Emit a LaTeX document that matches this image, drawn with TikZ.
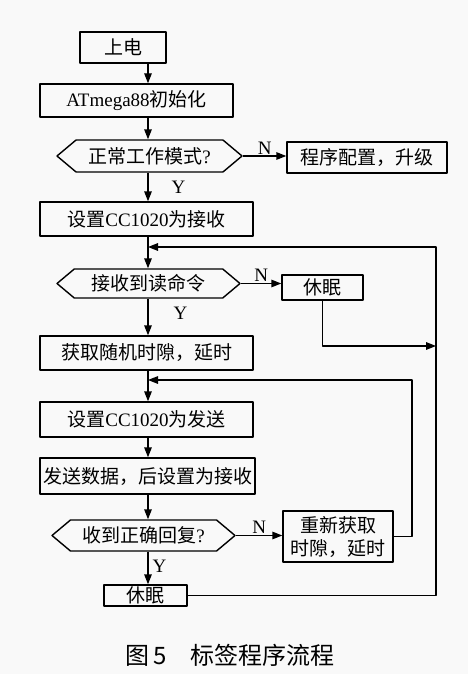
\documentclass[tikz,border=0pt]{standalone}
\usepackage{fontspec}
\setmainfont{Liberation Serif}
\newfontfamily\cjk{Noto Sans CJK SC}
\usetikzlibrary{arrows.meta,shapes.symbols}

\begin{document}
\begin{tikzpicture}[x=1pt, y=-1pt, >={Triangle[length=10pt,width=7.5pt]}, line width=1.4pt, line join=round, font=\fontsize{19}{21}\selectfont]
	\def\tx{148} \def\rx{436} \def\qx{412}
	\tikzset{box/.style={draw, rectangle, inner sep=0pt},
		hexa/.style={draw, signal, signal to=west and east, signal pointer angle=80, inner sep=0pt},
		lbl/.style={font=\fontsize{19}{21}\selectfont, inner sep=1pt}}
	\fill [gray!5] (0,0) rectangle (468,674);
	\useasboundingbox (0,0) rectangle (468,674);
	\coordinate (tk) at (\tx,0);
	\node [box, minimum width=86, minimum height=31] (pwr) at (123,47.5) {\cjk 上电};
	\node [box, minimum width=193, minimum height=33] (init) at (136.5,100.5) {ATmega88{\cjk 初始化}};
	\node [hexa, minimum width=185, minimum height=32] (mode) at (149.5,156) {{\cjk 正常工作模式}?};
	\node [box, minimum width=160, minimum height=31] (prog) at (367,157.5) {\cjk 程序配置，升级};
	\node [box, minimum width=213, minimum height=34] (setrx) at (146.5,219) {{\cjk 设置}CC1020{\cjk 为接收}};
	\node [hexa, minimum width=183, minimum height=29] (read) at (148.5,283.5) {\cjk 接收到读命令};
	\node [box, minimum width=81, minimum height=25] (sleepa) at (322.5,287.5) {\cjk 休眠};
	\node [box, minimum width=213, minimum height=34] (slot) at (146.5,353) {\cjk 获取随机时隙，延时};
	\node [box, minimum width=213, minimum height=35] (settx) at (146.5,419.5) {{\cjk 设置}CC1020{\cjk 为发送}};
	\node [box, minimum width=215, minimum height=36] (send) at (147.5,476) {\cjk 发送数据，后设置为接收};
	\node [hexa, minimum width=183, minimum height=31] (ack) at (143.5,535.5) {{\cjk 收到正确回复}?};
	\node [box, minimum width=110, minimum height=51, align=center, font=\cjk\fontsize{19}{23}\selectfont] (retry) at (338,536.5) {重新获取\\时隙，延时};
	\node [box, minimum width=83, minimum height=21] (sleepb) at (145.5,595.5) {\cjk 休眠};
	\node [font=\cjk\fontsize{24}{26}\selectfont] (cap) at (230,655) {图\,5\quad 标签程序流程};
	% main line
	\draw [->] (pwr.south -| tk) -- (init.north -| tk);
	\draw [->] (init.south -| tk) -- (mode.north -| tk);
	\draw [->] (mode.south -| tk) -- node [lbl, right=22pt] (ya) {Y} (setrx.north -| tk);
	\draw [->] (setrx.south -| tk) -- (read.north -| tk);
	\draw [->] (read.south -| tk) -- node [lbl, right=24pt, yshift=4pt] (yb) {Y} (slot.north -| tk);
	\draw [->] (slot.south -| tk) -- (settx.north -| tk);
	\draw [->] (settx.south -| tk) -- (send.north -| tk);
	\draw [->] (send.south -| tk) -- (ack.north -| tk);
	\draw [->] (ack.south -| tk) -- node [lbl, right=3pt, yshift=2pt] (yc) {Y} (sleepb.north -| tk);
	% branches
	\draw [->] (mode.east) -- node [lbl, above] (na) {N} (mode.east -| prog.west);
	\draw [->] (read.east) -- node [lbl, above] (nb) {N} (read.east -| sleepa.west);
	\draw [->] (ack.east) -- node [lbl, above] (nc) {N} (ack.east -| retry.west);
	% loops
	\coordinate (ra) at (\rx,247);
	\coordinate (ja) at (\tx,247);
	\coordinate (sa) at (\rx,346);
	\coordinate (rb) at (\qx,380);
	\coordinate (jb) at (\tx,380);
	\draw [->] (sleepa.south) |- (sa);
	\draw [->] (sleepb.east) -| (ra) -- (ja);
	\draw [->] (retry.east) -| (rb) -- (jb);
\end{tikzpicture}
\end{document}
